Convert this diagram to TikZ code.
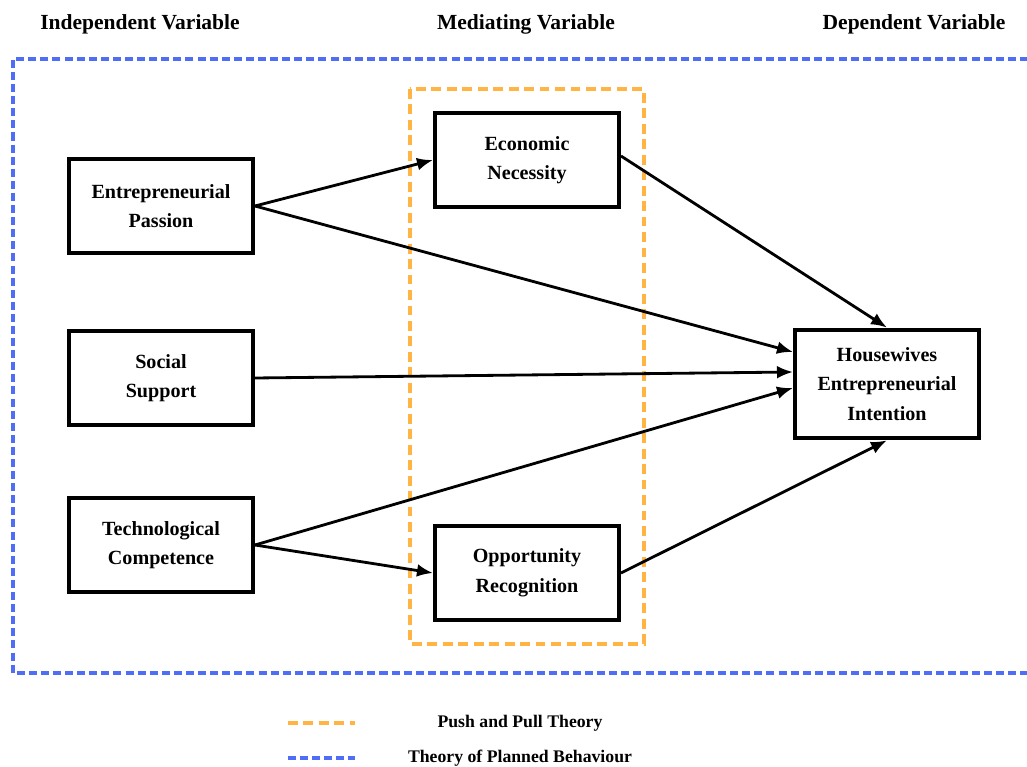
\documentclass[tikz,border=0pt]{standalone}
\usepackage{fontspec}
\setmainfont{Liberation Serif}
\usepackage{xcolor}
\usetikzlibrary{arrows.meta}

\definecolor{pushorange}{RGB}{255,180,68}
\definecolor{tpbblue}{RGB}{80,110,245}

\begin{document}
\begin{tikzpicture}[
    x=0.025cm, y=-0.025cm,
    box/.style={rectangle, draw, line width=2.8pt, minimum width=4.6cm, minimum height=2.36cm, align=center, font=\fontsize{14.3}{21}\selectfont\bfseries},
    arrow/.style={-{Latex[length=0.4cm,width=0.32cm]}, line width=2pt},
    header/.style={font=\fontsize{15.3}{18}\selectfont\bfseries},
    legend/.style={font=\fontsize{12.6}{15}\selectfont\bfseries},
    pushline/.style={pushorange, line width=3.2pt, dash pattern=on 7pt off 4pt},
    tpbline/.style={tpbblue, line width=2.6pt, dash pattern=on 5.7pt off 2.9pt}
]
    \useasboundingbox[fill=white] (0,0) rectangle (1027,767);

    % Column headers
    \node[header] (indep) at (140,24) {Independent Variable};
    \node[header] (medi) at (526,24) {Mediating Variable};
    \node[header] (dep) at (914,24) {Dependent Variable};

    % Theory frames
    \draw[tpbline] (1040,59) -- (13,59) -- (13,673) -- (1040,673);
    \draw[pushline] (410,89) rectangle (644,644);

    % Independent variables
    \node[box] (ep) at (161,206) {Entrepreneurial\\Passion};
    \node[box] (ss) at (161,378) {Social\\Support};
    \node[box] (tc) at (161,545) {Technological\\Competence};

    % Mediators
    \node[box] (en) at (527,160) {Economic\\Necessity};
    \node[box] (or) at (527,573) {Opportunity\\Recognition};

    % Dependent variable
    \node[box, minimum height=2.72cm] (hei) at (887,384) {Housewives\\Entrepreneurial\\Intention};

    % Arrows
    \draw[arrow] (ep.east) -- (en.west);
    \draw[arrow] (ep.east) -- ([yshift=0.8cm]hei.west);
    \draw[arrow] (ss.east) -- ([yshift=0.3cm]hei.west);
    \draw[arrow] (tc.east) -- ([yshift=-0.1cm]hei.west);
    \draw[arrow] (tc.east) -- (or.west);
    \draw[arrow] ([yshift=0.1cm]en.east) -- (hei.north);
    \draw[arrow] (or.east) -- (hei.south);

    % Legend
    \coordinate (pushA) at (288,723);
    \coordinate (pushB) at (355,723);
    \coordinate (tpbA) at (288,758);
    \coordinate (tpbB) at (355,758);
    \draw[pushline] (pushA) -- (pushB);
    \draw[tpbline] (tpbA) -- (tpbB);
    \node[legend] (pushtxt) at (520,723) {Push and Pull Theory};
    \node[legend] (tpbtxt) at (520,758) {Theory of Planned Behaviour};
\end{tikzpicture}
\end{document}
